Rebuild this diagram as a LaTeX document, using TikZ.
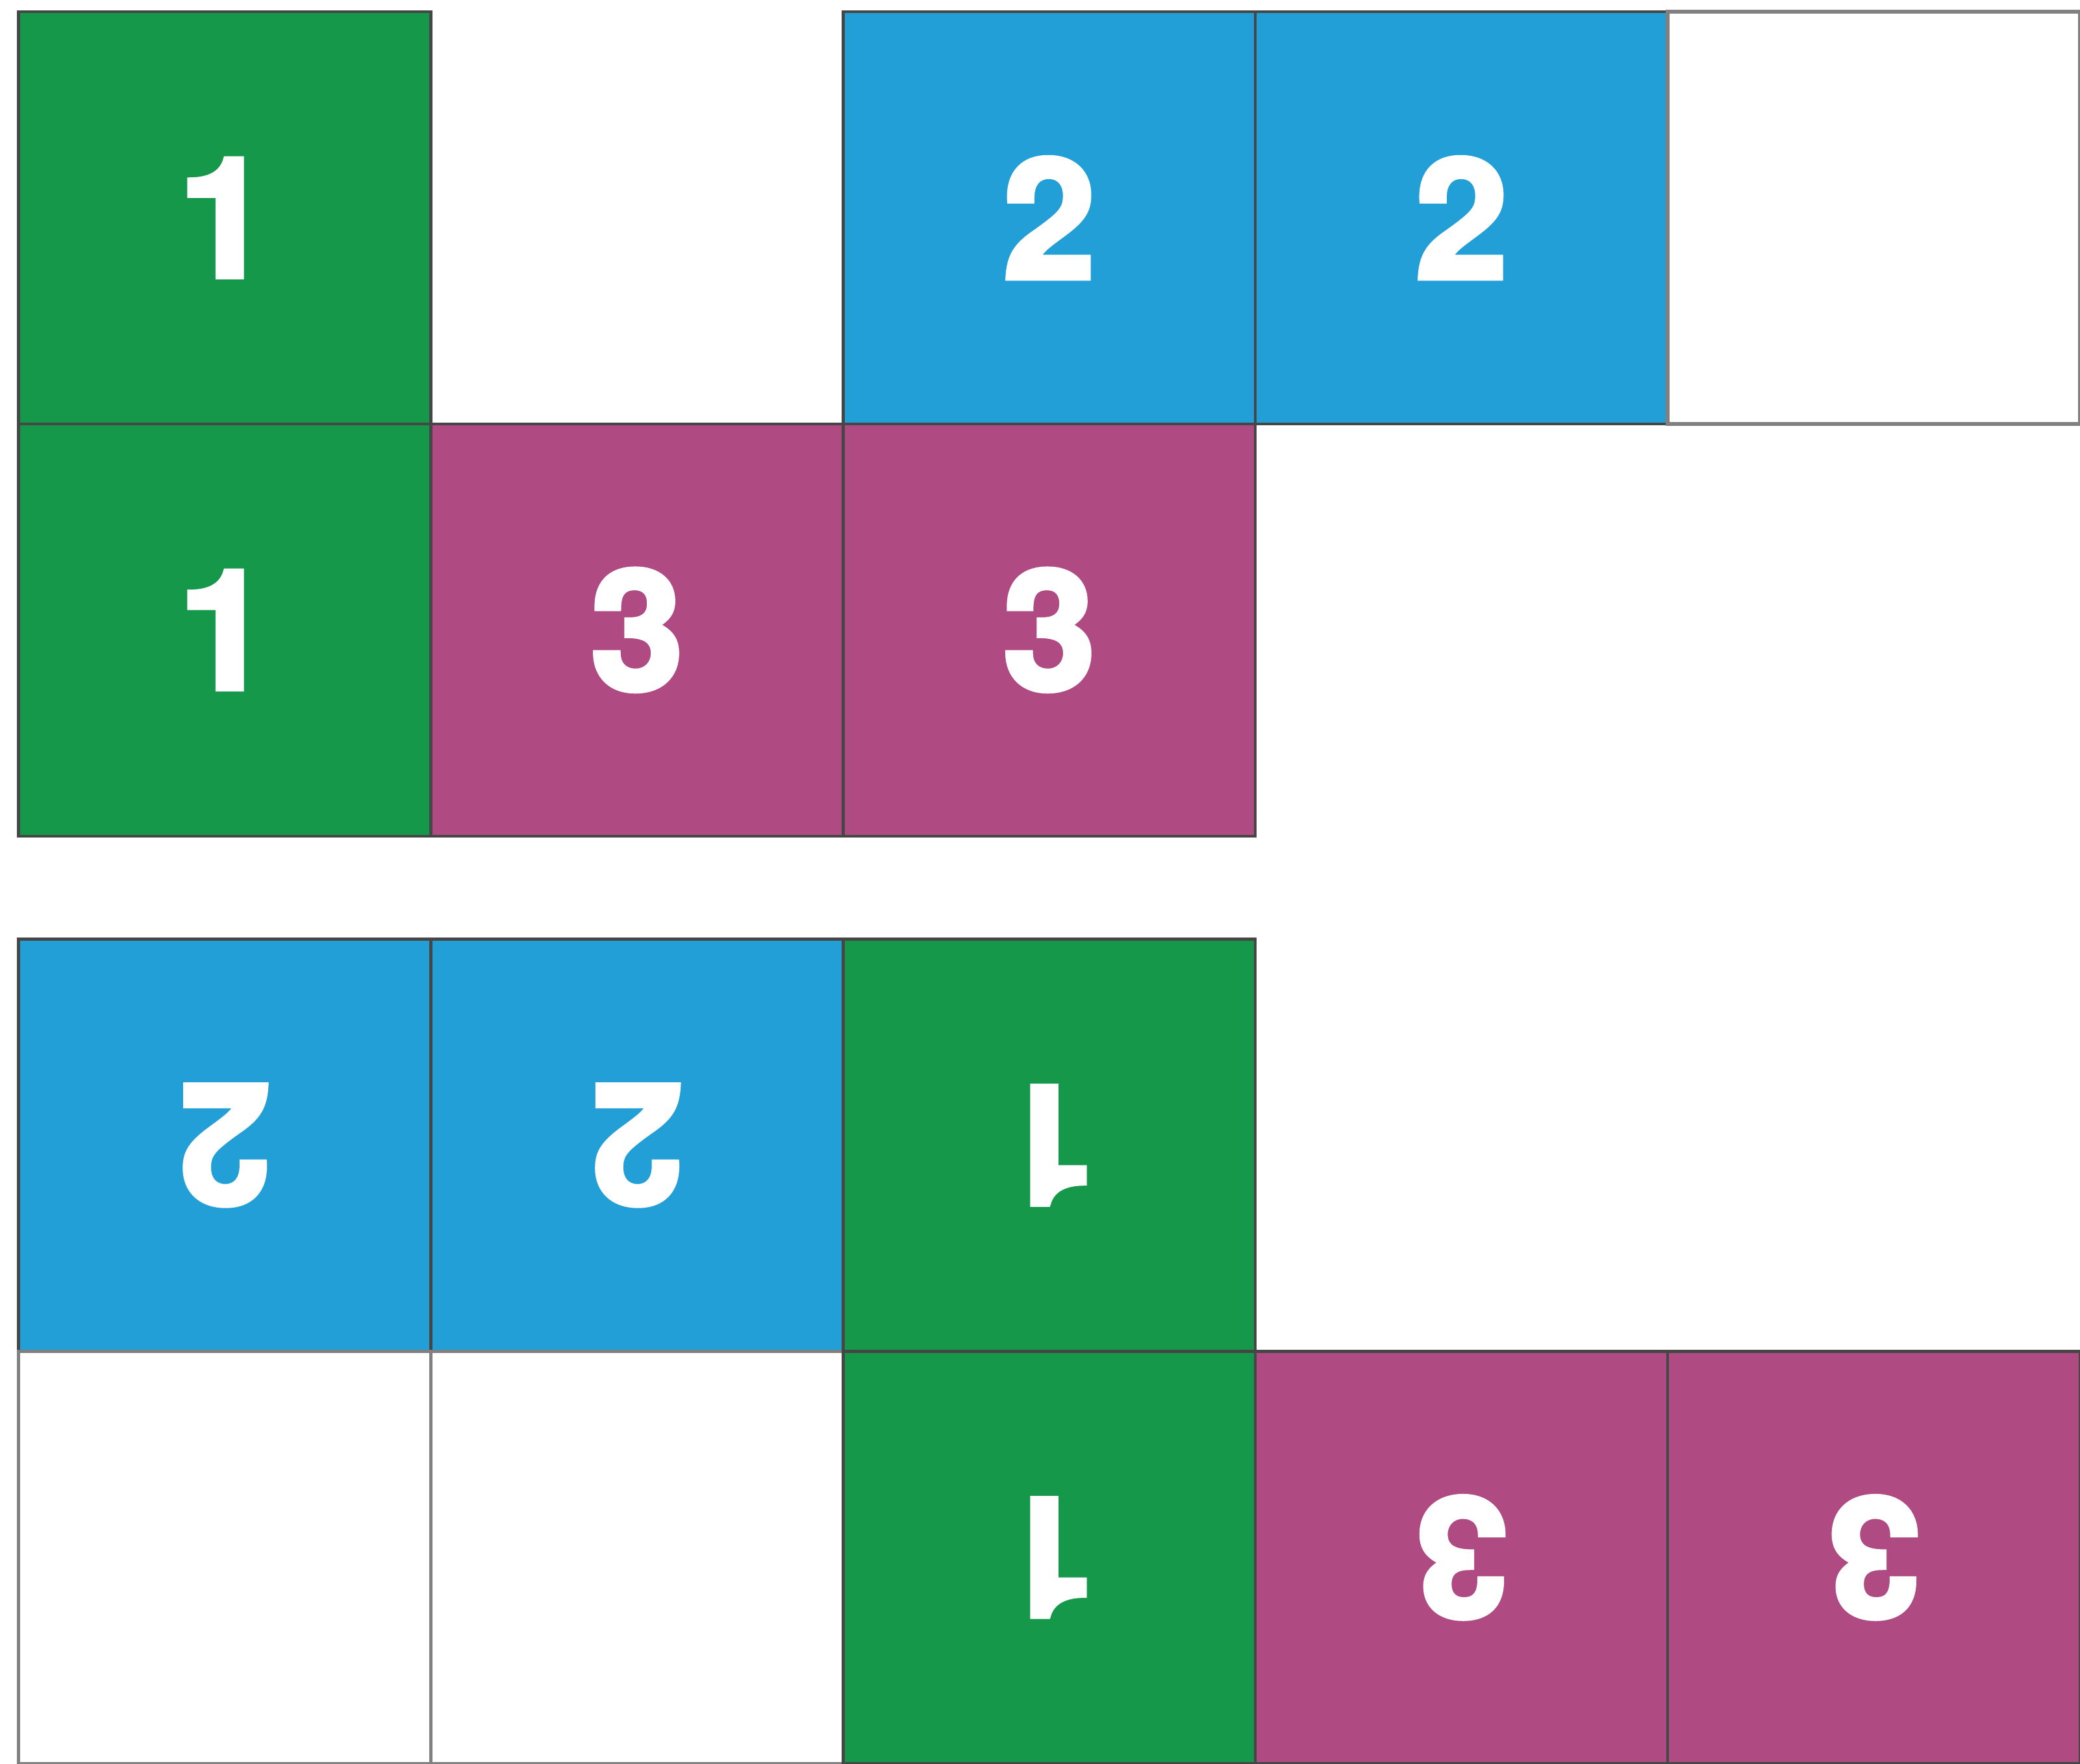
\documentclass[tikz,border=0pt]{standalone}
\usepackage{fontspec}
\newfontfamily\tilefont{texgyreheros-bold.otf}[FakeBold=3]
\usepackage{xcolor}
\usetikzlibrary{positioning}

\definecolor{tileGreen}{RGB}{22,152,74}
\definecolor{tileBlue}{RGB}{35,159,215}
\definecolor{tileMagenta}{RGB}{176,74,130}
\definecolor{edgeGray}{RGB}{70,70,70}

\tikzset{
  tile/.style={draw=edgeGray, line width=0.4pt, minimum size=2cm, inner sep=0pt, outer sep=0pt,
    text=white, font=\tilefont\fontsize{23}{23}\selectfont},
  blank/.style={draw=gray, line width=0.5pt, fill=white, minimum size=2cm, inner sep=0pt, outer sep=0pt},
  flipped/.style={rotate=180}
}

\begin{document}
\begin{tikzpicture}
\useasboundingbox (-0.09,0) rectangle (10,8.557);

% Upper layout
\node[tile, fill=tileGreen] (up1a) at (1,7.5) {1};
\node[tile, fill=tileBlue] (up2a) at (5,7.5) {2};
\node[tile, fill=tileBlue] (up2b) at (7,7.5) {2};
\node[blank] (upE) at (9,7.5) {};
\node[tile, fill=tileGreen] (up1b) at (1,5.5) {1};
\node[tile, fill=tileMagenta] (up3a) at (3,5.5) {3};
\node[tile, fill=tileMagenta] (up3b) at (5,5.5) {3};

% Lower layout (turned round)
\node[tile, flipped, fill=tileBlue] (lo2a) at (1,3) {2};
\node[tile, flipped, fill=tileBlue] (lo2b) at (3,3) {2};
\node[tile, flipped, fill=tileGreen] (lo1a) at (5,3) {1};
\node[blank] (loEa) at (1,1) {};
\node[blank] (loEb) at (3,1) {};
\node[tile, flipped, fill=tileGreen] (lo1b) at (5,1) {1};
\node[tile, flipped, fill=tileMagenta] (lo3a) at (7,1) {3};
\node[tile, flipped, fill=tileMagenta] (lo3b) at (9,1) {3};

\end{tikzpicture}
\end{document}
